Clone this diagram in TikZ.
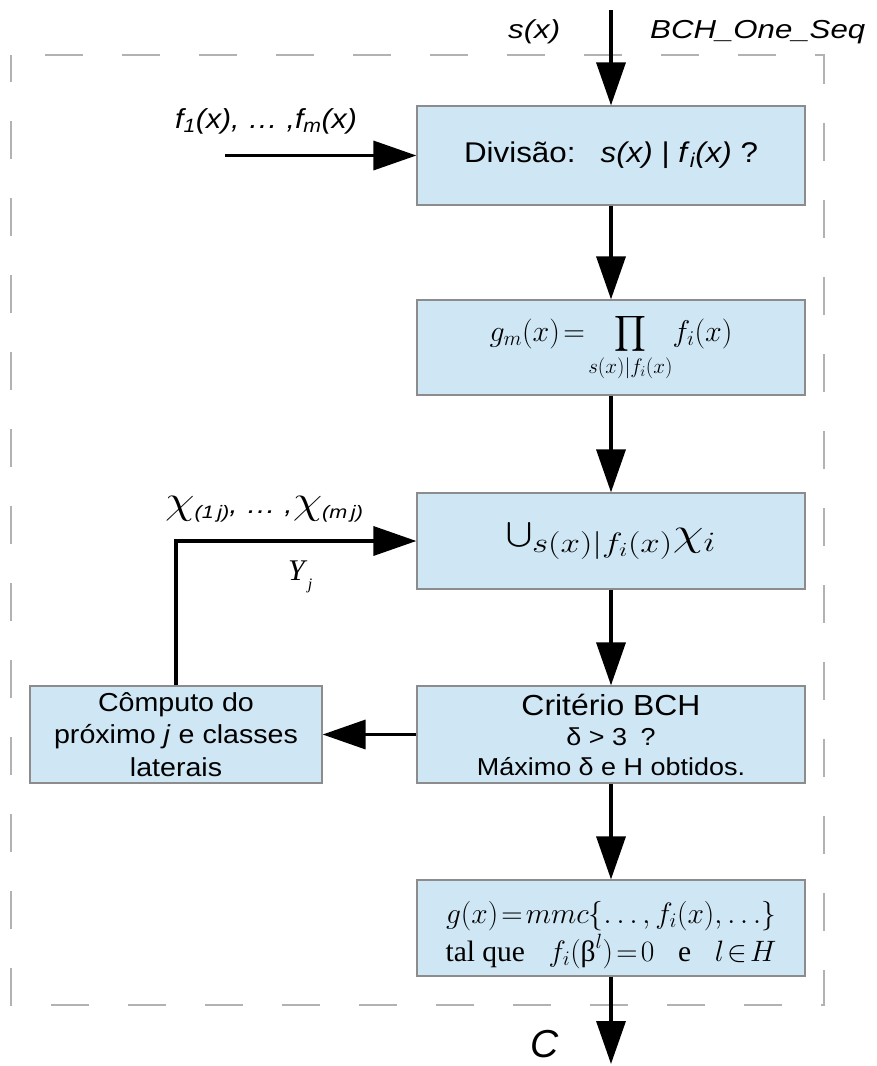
\RequirePackage{fix-cm}
\documentclass[tikz,border=0pt]{standalone}
\usepackage[no-math]{fontspec}
\usepackage{exscale}
\setmainfont{Liberation Sans}
\newfontfamily\serifrm{Liberation Serif}
\usepackage{graphicx}
\usetikzlibrary{arrows.meta}

\definecolor{boxfill}{RGB}{207,231,245}
\definecolor{boxline}{RGB}{140,140,140}
\definecolor{framegray}{RGB}{178,178,178}

% slightly widened text
\newcommand{\wide}[1]{\scalebox{1.1}[1]{#1}}
\newcommand{\wider}[1]{\scalebox{1.2}[1]{#1}}

\begin{document}
\begin{tikzpicture}[x=1pt,y=-1pt,
  box/.style={draw=boxline, fill=boxfill, line width=1.2pt, minimum width=388pt,
              inner sep=0pt, align=center},
  arr/.style={line width=3.5pt, -{Triangle[length=43pt,width=29pt]}},
  lbl/.style={inner sep=0pt, anchor=base west},
  frame/.style={draw=framegray, line width=1.3pt, dash pattern=on 38pt off 39pt, dash phase=43pt}]

\useasboundingbox (0,0) rectangle (877,1066);
\fill[white] (0,0) rectangle (877,1066);

% dashed enclosure
\draw[frame] (11,55) -- (824,55) -- (824,1005) -- (11,1005) -- cycle;

% process boxes
\node[box, minimum height=99pt, font=\fontsize{28.5}{34}\selectfont] (div) at (611,155.5)
  {\wide{Divisão:\hspace{0.8em}\textit{s(x)} | \textit{f}\textsubscript{\itshape i}\textit{(x)} ?}};
\node[box, minimum height=95pt, font=\fontsize{30}{34}\selectfont] (prod) at (611,347.5)
  {$\displaystyle g_m(x)\!=\!\prod_{s(x)|f_i(x)}\! f_i(x)$};
\node[box, minimum height=96pt, font=\fontsize{40}{44}\selectfont] (uni) at (611,541)
  {\scalebox{1.25}[1]{$\bigcup_{s(x)|f_i(x)}\!\chi_i$}};
\node[box, minimum height=97pt, font=\fontsize{24.5}{30}\selectfont] (crit) at (611,734.5)
  {\wide{\fontsize{29}{30}\selectfont Critério BCH}\\
   \wide{δ > 3\hspace{0.5em}?}\\
   \wide{Máximo δ e H obtidos.}};
\node[box, minimum width=292pt, minimum height=97pt, font=\fontsize{26}{32.5}\selectfont] (comp) at (176,734.5)
  {\wide{Cômputo do}\\ \wide{próximo \textit{j} e classes}\\ \wide{laterais}};
\node[box, minimum height=96pt, font=\serifrm\fontsize{29.5}{37}\selectfont] (mmc) at (611,928)
  {\raisebox{-7pt}[\height][\depth]{\begin{tabular}{@{}c@{}}
   $g(x)\!=\!mmc\{\dots,f_i(x),\dots\}$\\
   tal que\hspace{0.8em}$f_i(\mbox{\serifrm β}^l)\!=\!0$\hspace{0.8em}e\hspace{0.8em}$l\!\in\! H$
   \end{tabular}}};

% free ends of connectors
\coordinate (in) at (611,10);
\coordinate (fin) at (225,155.5);
\coordinate (out) at (611,1064);

% connectors
\draw[arr] (in) -- (div.north);
\draw[arr] (fin) -- (div.west);
\draw[arr] (div.south) -- (prod.north);
\draw[arr] (prod.south) -- (uni.north);
\draw[arr] (uni.south) -- (crit.north);
\draw[arr] (crit.west) -- (comp.east);
\draw[arr] (comp.north) |- (uni.west);
\draw[arr] (crit.south) -- (mmc.north);
\draw[arr] (mmc.south) -- (out);

% labels
\node[lbl, font=\fontsize{26}{30}\selectfont\itshape] (sx) at (508,38) {\wider{s(x)}};
\node[lbl, font=\fontsize{26}{30}\selectfont\itshape] (bch) at (650,38) {\wider{BCH\_One\_Seq}};
\node[lbl, font=\fontsize{27.5}{30}\selectfont\itshape] (flist) at (175,128)
  {\wide{f\textsubscript{1}(x), … ,f\textsubscript{m}(x)}};
\node[lbl, font=\fontsize{25}{30}\selectfont\itshape] (chis) at (165,513)
  {\wider{{\fontsize{40}{44}\selectfont$\chi$}{\fontsize{18}{20}\selectfont\raisebox{-5pt}{(1\,j)}}, … ,{\fontsize{40}{44}\selectfont$\chi$}{\fontsize{18}{20}\selectfont\raisebox{-5pt}{(m\,j)}}}};
\node[lbl, font=\serifrm\fontsize{30}{36}\selectfont\itshape] (yj) at (288,580)
  {Y\hspace{3pt}\raisebox{-9pt}{\fontsize{16}{18}\selectfont j}};
\node[lbl, font=\fontsize{39}{44}\selectfont\itshape] (cc) at (530,1057) {C};
\end{tikzpicture}
\end{document}
